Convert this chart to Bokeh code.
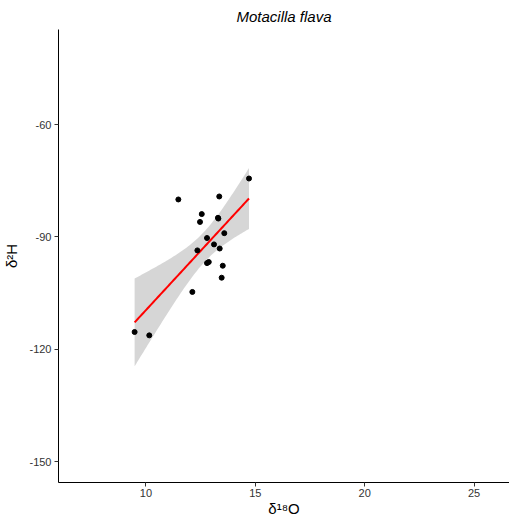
import numpy as np
from bokeh.plotting import figure
from bokeh.models import Range1d, FixedTicker, PrintfTickFormatter
from bokeh.embed import file_html
from bokeh.resources import INLINE

# data
d18O = [9.48, 10.15, 11.48, 14.71, 13.35, 12.55, 12.47, 13.29, 13.31, 13.58,
        12.79, 12.35, 13.11, 13.37, 12.79, 12.87, 13.51, 13.46, 12.12]
d2H = [-115.4, -116.3, -80.0, -74.4, -79.2, -83.9, -86.0, -84.9, -85.1, -89.0,
       -90.3, -93.6, -92.0, -93.1, -97.0, -96.7, -97.7, -100.9, -104.7]
x_ticks = [10, 15, 20, 25]
y_ticks = [-150, -120, -90, -60]
title_text = "Motacilla flava"

x = np.array(d18O)
y = np.array(d2H)
n = len(x)
b, a = np.polyfit(x, y, 1)
xs = np.linspace(x.min(), x.max(), 80)
fit = a + b * xs
resid = y - (a + b * x)
s = np.sqrt(np.sum(resid ** 2) / (n - 2))
sxx = np.sum((x - x.mean()) ** 2)
t975 = 2.1098  # t quantile, df = n-2 = 17
se = s * np.sqrt(1.0 / n + (xs - x.mean()) ** 2 / sxx)
lower = fit - t975 * se
upper = fit + t975 * se

p = figure(frame_width=451, frame_height=453, output_backend="svg", toolbar_location=None,
           x_range=Range1d(6.0, 26.62), y_range=Range1d(-155.6, -34.6),
           min_border_left=56, min_border_right=0, min_border_bottom=38,
           min_border_top=0)
p.title.text = title_text
p.title.align = "center"
p.title.text_font = "Liberation Sans"
p.title.text_font_style = "italic"
p.title.text_font_size = "15px"
p.title.text_color = "black"

p.varea(x=xs, y1=lower, y2=upper, fill_color="#999999", fill_alpha=0.4)
p.line(xs, fit, line_color="red", line_width=2)
p.scatter(x, y, size=5, fill_color="black", line_color="black")

p.xgrid.visible = False
p.ygrid.visible = False
p.outline_line_color = None
p.background_fill_color = "white"
p.border_fill_color = "white"

for ax in (p.xaxis[0], p.yaxis[0]):
    ax.axis_line_color = "black"
    ax.axis_line_width = 1
    ax.major_tick_line_color = "#333333"
    ax.major_tick_out = 4
    ax.major_tick_in = 0
    ax.minor_tick_line_color = None
    ax.major_label_text_font = "Liberation Sans"
    ax.major_label_text_font_size = "11px"
    ax.major_label_text_color = "#333333"
    ax.axis_label_text_font = "Liberation Sans"
    ax.axis_label_text_font_size = "15px"
    ax.axis_label_text_font_style = "normal"
    ax.axis_label_text_color = "black"
    ax.formatter = PrintfTickFormatter(format="%d")

p.xaxis.ticker = FixedTicker(ticks=x_ticks)
p.yaxis.ticker = FixedTicker(ticks=y_ticks)
p.xaxis.axis_label = "δ¹⁸O"
p.yaxis.axis_label = "δ²H"
p.xaxis.axis_label_standoff = 0
p.yaxis.axis_label_standoff = 6
p.xaxis.major_label_standoff = 2
p.yaxis.major_label_standoff = 3

open("out.html", "w").write(file_html(p, INLINE))
